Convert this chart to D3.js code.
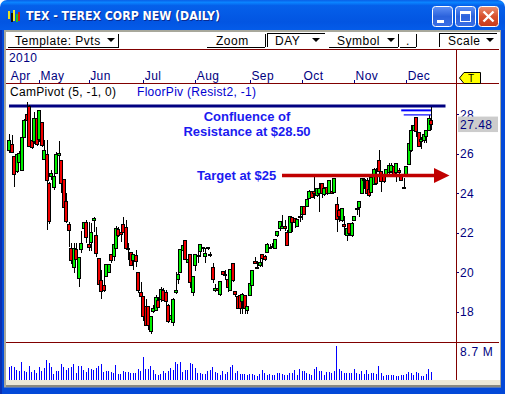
<!DOCTYPE html>
<html>
<head>
<meta charset="utf-8">
<script src="https://cdn.jsdelivr.net/npm/d3@7"></script>
<style>
    html, body { margin: 0; padding: 0; background: #fff; overflow: hidden; }
    svg { display: block; }
    text { font-family: "Liberation Sans", Arial, sans-serif; }
</style>
</head>
<body>
<div id="chart"></div>
<script>
// daily prices, Apr to Dec 2010
const opens = [26.15,26.49,25.88,25.09,25.58,25.14,26.83,28.01,28.42,26.66,26.61,27.79,26.73,27.57,25.71,25.98,24.49,24.83,24.29,25.0,25.92,25.68,24.71,23.57,22.4,
    21.21,20.25,21.13,19.69,21.16,22.23,22.51,21.43,21.5,22.62,21.84,20.71,19.61,19.35,19.78,19.99,20.88,20.82,21.21,22.18,22.0,22.44,22.27,21.21,21.01,
    20.58,20.87,20.0,18.96,18.76,18.29,18.25,16.98,18.0,18.05,18.59,18.62,19.06,18.96,18.34,17.61,17.44,18.96,19.64,19.98,21.09,21.6,20.48,20.91,18.98,
    20.33,20.79,21.04,21.24,20.79,21.21,20.91,20.25,19.1,19.18,18.89,20.06,19.86,19.64,19.06,20.45,19.03,18.79,18.84,18.5,18.84,18.05,18.81,19.35,20.57,
    20.25,20.35,20.91,20.79,21.01,21.21,21.33,21.21,21.84,22.21,22.24,22.33,22.01,22.01,22.77,22.72,22.31,22.75,22.95,23.32,23.32,23.75,24.08,24.08,23.88,
    24.0,24.5,23.92,24.3,24.0,24.08,24.03,23.41,23.15,22.61,22.4,21.84,22.45,21.84,22.61,23.19,23.27,23.99,24.7,24.66,24.19,24.02,24.46,24.87,25.68,25.09,
    24.97,24.97,25.04,25.09,25.34,25.04,25.17,24.92,24.3,24.92,25.48,26.19,27.17,27.84,27.07,26.61,26.69,26.9,27.2,27.71];
const highs = [27.0,26.95,25.88,25.97,26.15,26.83,27.74,28.64,28.45,26.66,28.13,28.13,28.21,27.57,26.69,26.69,24.58,25.17,25.09,26.1,26.64,25.68,24.71,23.99,22.57,
    21.5,21.47,21.47,20.76,22.09,22.51,22.65,22.57,22.48,22.8,22.28,20.71,20.12,19.78,20.4,20.4,20.93,21.47,22.35,22.31,22.39,22.78,22.65,21.46,21.01,
    20.91,21.13,20.0,19.49,18.76,18.67,18.29,17.78,18.34,18.84,18.76,19.27,19.18,19.09,18.39,17.83,18.68,20.03,20.11,21.16,21.46,21.6,20.65,20.91,19.77,
    20.91,21.04,21.41,21.29,21.21,21.29,21.04,20.45,19.43,19.4,19.55,20.06,20.11,19.86,20.14,20.45,19.06,18.84,18.84,18.93,18.84,18.29,19.44,20.11,20.79,
    20.58,20.65,20.91,20.87,21.46,21.43,21.46,21.68,22.11,22.61,22.9,22.65,22.14,22.85,22.82,22.72,22.68,22.99,23.32,23.32,23.8,24.17,24.13,24.85,24.25,
    24.5,24.54,24.3,24.37,24.64,24.2,24.76,23.83,23.19,23.27,22.85,22.4,22.51,22.56,22.85,23.32,23.61,24.78,24.75,24.75,24.75,24.83,25.26,25.26,26.19,25.14,
    25.0,25.2,25.51,25.51,25.42,25.51,25.26,24.92,24.75,25.37,26.52,27.45,27.79,27.88,27.07,26.86,27.17,27.23,27.96,28.35];
const lows = [26.05,26.02,24.33,25.04,25.58,25.14,26.78,27.71,26.32,26.22,26.52,26.39,26.61,26.35,25.68,22.13,22.43,24.66,24.19,24.97,24.83,23.99,22.55,22.5,21.3,
    20.42,19.95,20.62,19.27,20.96,22.23,21.5,21.1,21.1,22.04,20.79,19.35,18.65,19.02,19.74,19.99,20.49,20.59,21.16,21.8,21.55,21.97,21.16,20.62,20.36,
    20.14,20.28,18.96,18.76,17.54,17.32,17.07,16.87,17.92,18.05,18.18,18.5,18.56,18.29,17.44,17.49,17.27,18.89,19.43,19.94,21.09,20.62,20.45,19.23,18.79,
    20.08,20.45,20.79,21.04,20.48,21.13,20.75,19.47,19.01,19.01,18.79,19.81,19.6,19.01,19.03,19.52,18.76,18.12,17.91,17.91,17.88,17.91,18.79,19.35,20.42,
    20.16,20.28,20.28,20.58,20.99,21.16,21.21,21.16,21.8,22.11,22.22,22.11,21.33,21.97,22.06,22.23,22.28,22.56,22.65,22.95,23.32,23.7,23.75,23.7,23.83,
    23.07,23.75,23.85,23.92,23.97,23.95,24.0,22.06,22.56,22.56,21.89,21.6,21.84,21.8,22.61,22.9,22.82,23.95,24.2,23.95,23.79,23.99,24.41,24.41,25.04,24.07,
    24.53,24.83,25.0,25.04,24.87,24.58,24.92,24.63,24.24,24.87,25.42,26.1,27.12,26.86,26.32,26.22,26.56,26.56,27.17,27.2];
const closes = [26.69,26.05,24.97,25.97,26.02,26.83,27.71,27.71,26.35,26.32,27.79,26.49,28.18,26.44,26.19,24.63,22.55,25.0,24.83,25.98,26.02,24.49,23.28,22.55,22.14,
    20.62,21.21,20.66,20.76,21.47,22.51,21.77,21.26,22.01,22.7,20.96,19.39,19.02,19.07,20.4,20.4,20.59,21.42,22.23,21.84,21.89,22.0,21.21,21.13,20.36,
    20.91,20.53,19.06,18.76,17.75,17.32,17.32,17.78,18.17,18.73,18.22,19.13,18.59,18.5,17.49,17.83,18.62,19.1,19.91,21.16,21.38,20.65,20.65,19.47,19.77,
    20.91,20.87,21.41,21.19,20.96,21.26,20.85,19.64,19.18,19.06,19.52,19.89,19.91,19.23,20.14,19.57,18.86,18.17,18.17,18.89,18.17,18.29,19.44,20.08,20.45,
    20.2,20.48,20.69,20.65,21.43,21.26,21.26,21.68,22.07,22.58,22.31,22.21,21.38,22.85,22.51,22.51,22.68,22.82,23.32,22.95,23.71,24.08,23.8,24.0,24.25,
    24.25,24.0,24.25,23.97,24.64,24.0,24.76,22.68,22.82,23.24,22.34,22.23,21.97,22.48,22.85,23.24,23.61,24.75,24.63,23.99,23.9,24.8,25.22,24.49,25.09,24.58,
    24.58,25.2,25.42,25.42,24.92,25.51,25.04,24.66,24.24,25.37,26.52,27.2,27.45,27.12,26.35,26.73,26.98,27.17,27.79,27.48];

// volume in millions
const volumes = [3.9,4.2,3.9,3.0,2.7,5.4,2.7,2.4,4.2,2.4,3.0,2.1,3.9,2.7,3.6,6.0,5.1,3.9,1.8,2.7,2.7,4.8,3.9,3.0,3.6,3.9,4.8,2.1,4.2,4.2,3.0,2.4,3.6,3.3,3.0,3.6,4.2,4.8,2.4,2.7,
    2.7,2.4,2.1,4.5,1.8,1.8,2.7,2.4,2.4,2.1,2.1,2.1,3.3,2.7,6.9,3.3,3.3,4.2,3.0,1.8,1.5,1.8,2.7,2.1,2.7,3.6,3.0,5.4,4.8,5.4,2.4,3.0,3.0,5.1,4.8,3.6,2.1,2.1,1.8,1.8,
    2.7,3.0,3.9,2.4,2.1,1.5,2.7,1.8,2.4,3.9,4.5,2.1,2.7,1.8,1.8,1.7,1.6,1.8,1.8,1.5,1.3,1.7,3.0,2.1,1.5,1.8,1.5,1.5,2.1,2.1,1.8,1.5,1.5,2.1,2.1,3.0,1.5,3.3,2.7,2.7,
    2.1,1.8,1.5,3.3,3.9,2.7,2.7,1.5,2.4,2.4,2.1,2.7,10.2,3.3,2.7,2.1,2.1,2.1,2.1,3.3,2.1,1.8,2.7,1.8,3.0,1.8,2.1,2.1,1.8,4.2,2.1,1.2,1.5,1.5,1.5,1.5,1.2,1.3,1.5,1.5,
    1.8,2.4,2.1,1.5,2.4,2.1,1.2,1.2,1.8,3.3,2.4];

const monthNames = ["Apr", "May", "Jun", "Jul", "Aug", "Sep", "Oct", "Nov", "Dec"];
const monthStarts = [0, 12, 32, 54, 75, 97, 118, 139, 160];
const priceTicks = [18, 20, 22, 24, 26, 28];

const lastPrice = 27.48;
const confluencePrice = 28.42;
const targetPrice = 24.9;
// the two short pivot lines at the right: price, first bar
const pivotLevels = [28.2, 27.97];
const pivotFirstBars = [158, 159];

const width = 505, height = 394;

const svg = d3.select("#chart").append("svg")
    .attr("width", width)
    .attr("height", height);

const xScale = d3.scaleLinear().domain([0, opens.length - 1]).range([9.33, 431]);
const yScale = d3.scaleLinear().domain([18, 28]).range([311.8, 114.3]);
const volScale = d3.scaleLinear().domain([0, 8.7]).range([380, 351]);

const navy = "#000080", maroon = "#800000", annotBlue = "#1a1af0";

// window frame
const defs = svg.append("defs");
function gradient(id, stops) {
    const g = defs.append("linearGradient").attr("id", id)
        .attr("x1", 0).attr("y1", 0).attr("x2", 0).attr("y2", 1);
    stops.forEach(s => g.append("stop").attr("offset", s[0]).attr("stop-color", s[1]));
}
gradient("titleGrad", [[0, "#0a5fe6"], [0.06, "#0a84ff"], [0.14, "#0560ea"], [0.55, "#0255e2"], [0.88, "#0560ee"], [1, "#0346c8"]]);
gradient("btnGrad", [[0, "#5e90f5"], [0.5, "#2b62dc"], [1, "#3a6fe6"]]);
gradient("closeGrad", [[0, "#ea8f72"], [0.5, "#d8512e"], [1, "#c63a1c"]]);

svg.append("rect").attr("width", width).attr("height", height).attr("fill", "#ffffff");
svg.append("rect").attr("width", width).attr("height", 40).attr("rx", 7).attr("fill", "url(#titleGrad)");
svg.append("rect").attr("y", 30).attr("width", width).attr("height", height - 30).attr("fill", "#0349d8");
svg.append("rect").attr("x", 0).attr("y", 30).attr("width", 2).attr("height", height - 30).attr("fill", "#0a2fb0");
svg.append("rect").attr("x", 4).attr("y", 30).attr("width", 497).attr("height", 357.5).attr("fill", "#a8a89c");
svg.append("rect").attr("x", 6).attr("y", 32).attr("width", 494).attr("height", 348).attr("fill", "#ffffff");
svg.append("rect").attr("x", 6).attr("y", 380).attr("width", 494).attr("height", 5).attr("fill", "#ece9d8");
svg.append("rect").attr("x", 6).attr("y", 385).attr("width", 495).attr("height", 2).attr("fill", "#8a8a80");

// title bar
const titleText = "TEX - TEREX CORP NEW (DAILY)";
[["#0a2a90", 27, 21], ["#ffffff", 26, 20]].forEach(t => {
    svg.append("text").attr("x", t[1]).attr("y", t[2])
        .attr("textLength", 194).attr("lengthAdjust", "spacingAndGlyphs")
        .style("font-family", "'DejaVu Sans'")
        .style("font-weight", "bold").style("font-size", "12px")
        .attr("fill", t[0]).text(titleText);
});

// small app icon
const icon = [[8, 11, 8, "#e8e020"], [11, 13, 9, "#111111"], [13, 10, 11, "#f0ec30"], [16, 14, 8, "#20c020"], [18, 12, 9, "#d02010"]];
icon.forEach(b => svg.append("rect").attr("x", b[0]).attr("y", b[1]).attr("width", 2).attr("height", b[2]).attr("fill", b[3]));

// minimize, maximize, close
[[432.5, "url(#btnGrad)"], [455.5, "url(#btnGrad)"], [478.5, "url(#closeGrad)"]].forEach(b => {
    svg.append("rect").attr("x", b[0]).attr("y", 6.5).attr("width", 20).attr("height", 20).attr("rx", 3)
        .attr("fill", b[1]).attr("stroke", "#ffffff").attr("stroke-width", 1);
});
svg.append("rect").attr("x", 437).attr("y", 20).attr("width", 7).attr("height", 3).attr("fill", "#ffffff");
svg.append("rect").attr("x", 460.5).attr("y", 11.5).attr("width", 10).attr("height", 10).attr("fill", "none").attr("stroke", "#ffffff");
svg.append("rect").attr("x", 460).attr("y", 11).attr("width", 11).attr("height", 3).attr("fill", "#ffffff");
svg.append("path").attr("d", "M483.5 11.5 L493.5 21.5 M493.5 11.5 L483.5 21.5").attr("stroke", "#ffffff").attr("stroke-width", 2.4).attr("fill", "none");

// toolbar
function toolText(label, x, spacing) {
    svg.append("text").attr("x", x).attr("y", 45)
        .style("font-size", "12px").style("letter-spacing", (spacing || 0.5) + "px")
        .attr("fill", "#000000").text(label);
}
function toolArrow(x) {
    svg.append("path").attr("d", `M${x} 38 h8 l-4 4 z`).attr("fill", "#000000");
}
function toolLine(x1, y1, x2, y2) {
    svg.append("line").attr("x1", x1).attr("y1", y1).attr("x2", x2).attr("y2", y2)
        .attr("stroke", "#000000").attr("stroke-width", 1).attr("shape-rendering", "crispEdges");
}
toolText("Template: Pvts", 15); toolArrow(107);
toolLine(8, 47, 119, 47); toolLine(118.5, 34, 118.5, 47);
toolText("Zoom", 216);
toolLine(207, 47, 265, 47); toolLine(265, 34, 265, 47);
toolText("DAY", 275); toolArrow(312);
toolLine(267, 33, 325, 33); toolLine(267, 33, 267, 47);
toolText("Symbol", 337); toolArrow(387);
toolLine(329, 47, 398, 47); toolLine(398, 34, 398, 47);
toolText(".", 406);
toolLine(400, 47, 416, 47); toolLine(416, 34, 416, 47);
toolText("Scale", 448); toolArrow(486);
toolLine(439, 33, 497, 33); toolLine(439, 33, 439, 47);

// panel rules
function rule(x1, y1, x2, y2) {
    svg.append("line").attr("x1", x1).attr("y1", y1).attr("x2", x2).attr("y2", y2)
        .attr("stroke", maroon).attr("stroke-width", 1).attr("shape-rendering", "crispEdges");
}
rule(6, 49.5, 499, 49.5);
rule(6, 83.5, 499, 83.5);
rule(6, 342.5, 499, 342.5);
rule(456.5, 49.5, 456.5, 380);

// time axis
svg.append("text").attr("x", 9).attr("y", 62).style("font-size", "12px").style("letter-spacing", "0.4px").attr("fill", navy).text("2010");

const monthAxis = d3.axisTop(xScale)
    .tickValues(monthStarts)
    .tickFormat((d, i) => monthNames[i])
    .tickSize(3)
    .tickPadding(0);
const monthG = svg.append("g")
    .attr("transform", "translate(0,83)")
    .call(monthAxis);
monthG.select(".domain").remove();
monthG.selectAll(".tick line").attr("stroke", navy).attr("shape-rendering", "crispEdges")
    .style("display", d => d === 0 ? "none" : null);
monthG.selectAll(".tick text")
    .attr("x", 1).attr("y", -3.5)
    .attr("text-anchor", "start")
    .style("font-size", "12px").style("letter-spacing", "0.4px").attr("fill", navy)
    .style("font-family", "'Liberation Sans'");

// study labels
svg.append("text").attr("x", 10).attr("y", 96).style("font-size", "12px").style("letter-spacing", "0.3px").attr("fill", "#000000").text("CamPivot (5, -1, 0)");
svg.append("text").attr("x", 137).attr("y", 96).style("font-size", "12px").style("letter-spacing", "0.3px").attr("fill", "#0000d0").text("FloorPiv (Resist2, -1)");

// price axis
const priceAxis = d3.axisRight(yScale)
    .tickValues(priceTicks)
    .tickFormat(d3.format("d"))
    .tickSize(2)
    .tickPadding(1);
const priceG = svg.append("g")
    .attr("transform", "translate(457,0)")
    .call(priceAxis);
priceG.select(".domain").remove();
priceG.selectAll(".tick line").attr("stroke", navy).attr("shape-rendering", "crispEdges");
priceG.selectAll(".tick text")
    .style("font-size", "12px").style("letter-spacing", "0.3px").style("font-family", "'Liberation Sans'")
    .attr("fill", navy);

// last price box
svg.append("rect").attr("x", 458).attr("y", yScale(lastPrice) - 8).attr("width", 40).attr("height", 15.5).attr("fill", "#cccccc");
svg.append("text").attr("x", 460).attr("y", yScale(lastPrice) + 4.5)
    .style("font-size", "12px").style("letter-spacing", "0.5px").attr("fill", navy).text(lastPrice.toFixed(2));

// yellow T marker
svg.append("path").attr("d", "M459.5 78 L464 72.5 H480.5 V83.5 H464 Z")
    .attr("fill", "#ffff00").attr("stroke", "#000000");
svg.append("text").attr("x", 471).attr("y", 82).attr("text-anchor", "middle")
    .style("font-size", "10px").attr("fill", "#000000").text("T");

// volume bars
svg.selectAll(".vol")
    .data(volumes)
    .enter()
    .append("rect")
    .attr("class", "vol")
    .attr("x", (d, i) => Math.floor(xScale(i)))
    .attr("y", d => volScale(d))
    .attr("width", 1)
    .attr("height", d => volScale(0) - volScale(d))
    .attr("fill", "#0000ff")
    .attr("shape-rendering", "crispEdges");

svg.append("text").attr("x", 460).attr("y", 356)
    .style("font-size", "12px").style("letter-spacing", "0.7px").attr("fill", navy).text("8.7 M");

// confluence line sits behind the candles
svg.append("line")
    .attr("x1", 9).attr("x2", 445.5)
    .attr("y1", yScale(confluencePrice)).attr("y2", yScale(confluencePrice))
    .attr("stroke", "#000080").attr("stroke-width", 3);

// candles
const candleData = opens.map((o, i) => ({ i: i, o: o, h: highs[i], l: lows[i], c: closes[i] }));
const candles = svg.selectAll(".candle")
    .data(candleData)
    .enter()
    .append("g")
    .attr("class", "candle")
    .attr("shape-rendering", "crispEdges");

candles.append("rect")
    .attr("x", d => Math.round(xScale(d.i)))
    .attr("y", d => yScale(d.h))
    .attr("width", 1)
    .attr("height", d => yScale(d.l) - yScale(d.h))
    .attr("fill", "#000000");

candles.append("rect")
    .attr("x", d => Math.round(xScale(d.i)) - 1.5)
    .attr("y", d => yScale(Math.max(d.o, d.c)))
    .attr("width", 3)
    .attr("height", d => Math.max(1, Math.abs(yScale(d.o) - yScale(d.c))))
    .attr("fill", d => d.c >= d.o ? "#00f000" : "#f00000")
    .attr("stroke", "#000000")
    .attr("stroke-width", 1);

// short pivot lines
pivotLevels.forEach((p, k) => {
    svg.append("line")
        .attr("x1", xScale(pivotFirstBars[k])).attr("x2", xScale(opens.length - 1))
        .attr("y1", yScale(p)).attr("y2", yScale(p))
        .attr("stroke", "#0000ff").attr("stroke-width", k === 0 ? 2 : 1.2);
});

// annotations
[["Confluence of", 247, 121], ["Resistance at $28.50", 247, 136]].forEach(t => {
    svg.append("text").attr("x", t[1]).attr("y", t[2]).attr("text-anchor", "middle")
        .style("font-weight", "bold").style("font-size", "13px")
        .attr("fill", annotBlue).text(t[0]);
});
svg.append("text").attr("x", 197).attr("y", 180)
    .style("font-weight", "bold").style("font-size", "13px")
    .attr("fill", annotBlue).text("Target at $25");

// target arrow
const arrowY = yScale(targetPrice);
svg.append("line").attr("x1", 282).attr("x2", 436)
    .attr("y1", arrowY).attr("y2", arrowY)
    .attr("stroke", "#c00000").attr("stroke-width", 3.5);
svg.append("path")
    .attr("d", `M434 ${arrowY - 7.5} L449.5 ${arrowY} L434 ${arrowY + 7.5} Z`)
    .attr("fill", "#c00000");
</script>
</body>
</html>
